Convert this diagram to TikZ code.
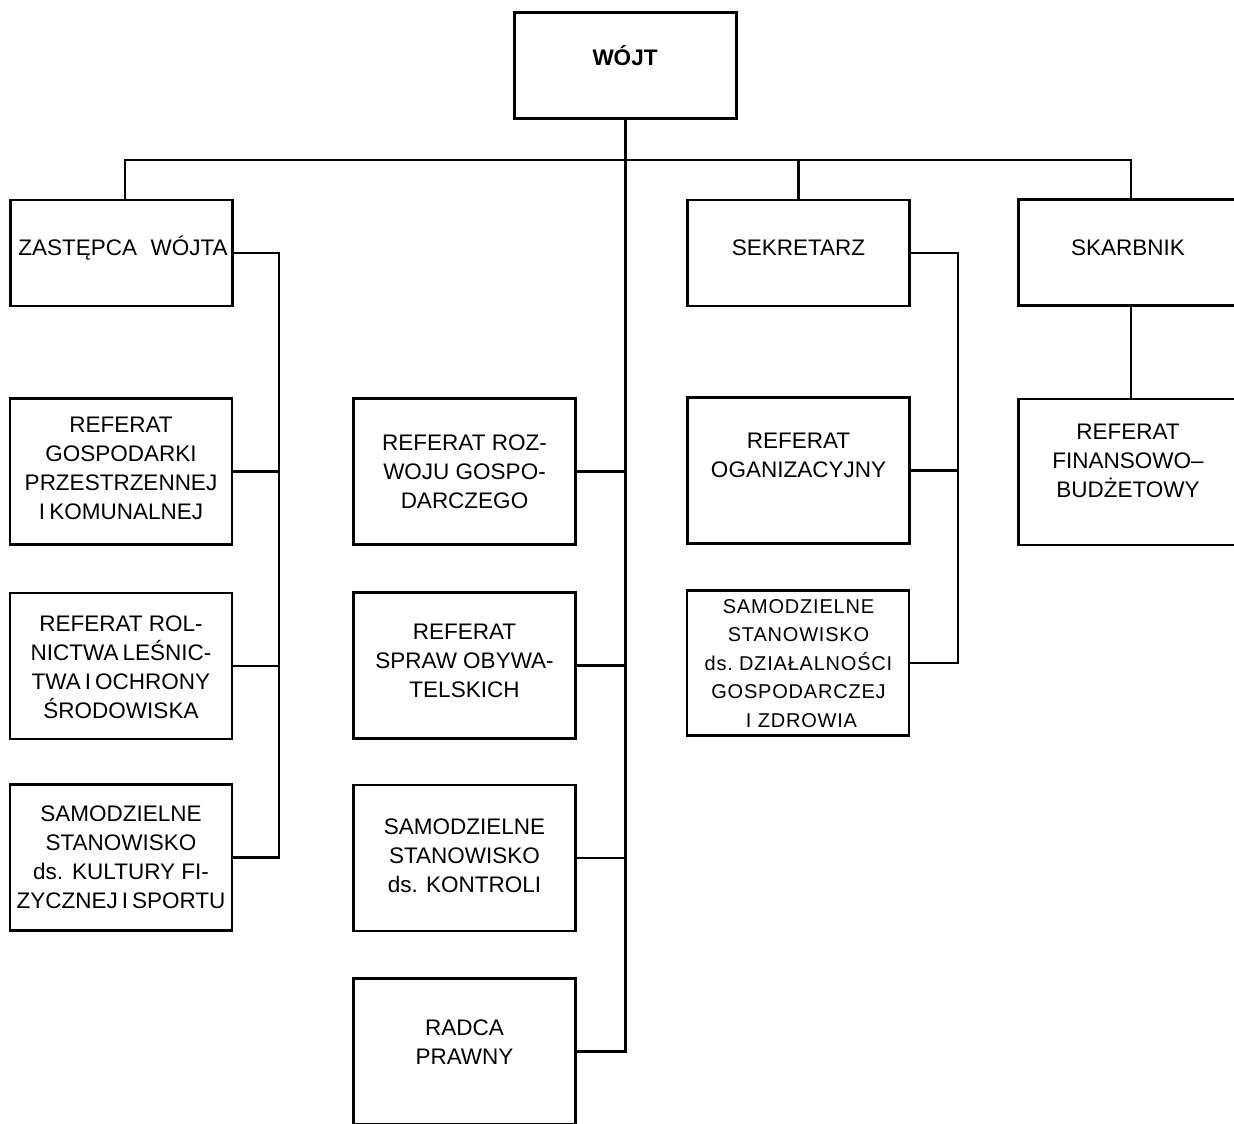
\documentclass[tikz,border=0pt]{standalone}
\usepackage{fontspec}
\setmainfont{Liberation Sans}
\newfontfamily\spacedfont[LetterSpace=4]{Liberation Sans}
\newcommand\tsp{\hspace{0.18em}}
\tikzset{
  box/.style={draw, line width=2.8pt, minimum width=222pt, minimum height=146pt, inner sep=0pt},
  topbox/.style={box, minimum height=106pt},
  txt/.style={align=center, inner sep=0pt, font=\fontsize{22.5}{29}\selectfont},
  smalltxt/.style={align=center, inner sep=0pt, font=\spacedfont\fontsize{20}{28.5}\selectfont},
  conn/.style={line width=2.8pt},
}
\begin{document}
\begin{tikzpicture}[x=1pt, y=-1pt]
\useasboundingbox (0,0) rectangle (1234,1124);
\clip (0,0) rectangle (1234,1124);
% boxes
\node[topbox] (wojt)  at (625.5,65.5) {};
\node[topbox] (zast)  at (121.5,253) {};
\node[topbox] (sek)   at (798.5,253) {};
\node[topbox] (skar)  at (1129.5,252.5) {};
\node[box] (gosp)  at (121,471.5) {};
\node[box] (roln)  at (121,666) {};
\node[box] (kult)  at (121,857.5) {};
\node[box] (roz)   at (464.5,471.5) {};
\node[box] (spraw) at (464.5,665.5) {};
\node[box] (kontr) at (464.5,858) {};
\node[box] (radca) at (464.5,1051.5) {};
\node[box] (org)   at (798.5,470.5) {};
\node[box, minimum height=145pt] (dzial) at (798,663) {};
\node[box] (fin)   at (1129.5,472) {};
% texts
\node[txt] (wojtT) at (625,60) {\strut\textbf{WÓJT}\strut};
\node[txt] (zastT) at (123,250) {\strut ZASTĘPCA\hspace{0.6em}WÓJTA\strut};
\node[txt] (sekT) at (798.5,250) {\strut SEKRETARZ\strut};
\node[txt] (skarT) at (1128,250) {\strut SKARBNIK\strut};
\node[txt] (gospT) at (121,470) {\strut REFERAT\\GOSPODARKI\\PRZESTRZENNEJ\\I\tsp KOMUNALNEJ\strut};
\node[txt] (rolnT) at (121,669) {\strut REFERAT ROL-\\NICTWA\tsp LEŚNIC-\\TWA\tsp I\tsp OCHRONY\\ŚRODOWISKA\strut};
\node[txt] (kultT) at (121,859) {\strut SAMODZIELNE\\STANOWISKO\\ds.\hspace{0.4em}KULTURY FI-\\ZYCZNEJ\tsp I\tsp SPORTU\strut};
\node[txt] (rozT) at (464.5,473.5) {\strut REFERAT ROZ-\\WOJU GOSPO-\\DARCZEGO\strut};
\node[txt] (sprawT) at (464.5,663) {\strut REFERAT\\SPRAW OBYWA-\\TELSKICH\strut};
\node[txt] (kontrT) at (464.5,858) {\strut SAMODZIELNE\\STANOWISKO\\ds. KONTROLI\strut};
\node[txt] (radcaT) at (464.5,1044) {\strut RADCA\\PRAWNY\strut};
\node[txt] (orgT) at (798.5,457.5) {\strut REFERAT\\OGANIZACYJNY\strut};
\node[smalltxt] (dzialT) at (798.5,664.5) {\strut SAMODZIELNE\\STANOWISKO\\ds.\hspace{0.3em}DZIAŁALNOŚCI\\GOSPODARCZEJ\\\hspace{0.3em}I ZDROWIA\strut};
\node[txt] (finT) at (1128,463) {\strut REFERAT\\FINANSOWO–\\BUDŻETOWY\strut};
% connectors
\coordinate (bus) at (625.5,160);
\coordinate (zx) at (279,253);
\coordinate (sx) at (958,253);
\draw[conn] (wojt.south) |- (radca.east);
\draw[conn] ([xshift=3.5pt]zast.north) |- (bus) -| ([xshift=1.5pt]skar.north);
\draw[conn] (sek.north) -- (sek.north |- bus);
\draw[conn] (roz.east) -- (roz.east -| bus);
\draw[conn] (spraw.east) -- (spraw.east -| bus);
\draw[conn] (kontr.east) -- (kontr.east -| bus);
\draw[conn] (zast.east) -- (zx) |- (kult.east);
\draw[conn] (gosp.east) -- (gosp.east -| zx);
\draw[conn] (roln.east) -- (roln.east -| zx);
\draw[conn] (sek.east) -- (sx) |- (dzial.east);
\draw[conn] (org.east) -- (org.east -| sx);
\draw[conn] ([xshift=1.5pt]skar.south) -- ([xshift=1.5pt]fin.north);
\end{tikzpicture}
\end{document}
